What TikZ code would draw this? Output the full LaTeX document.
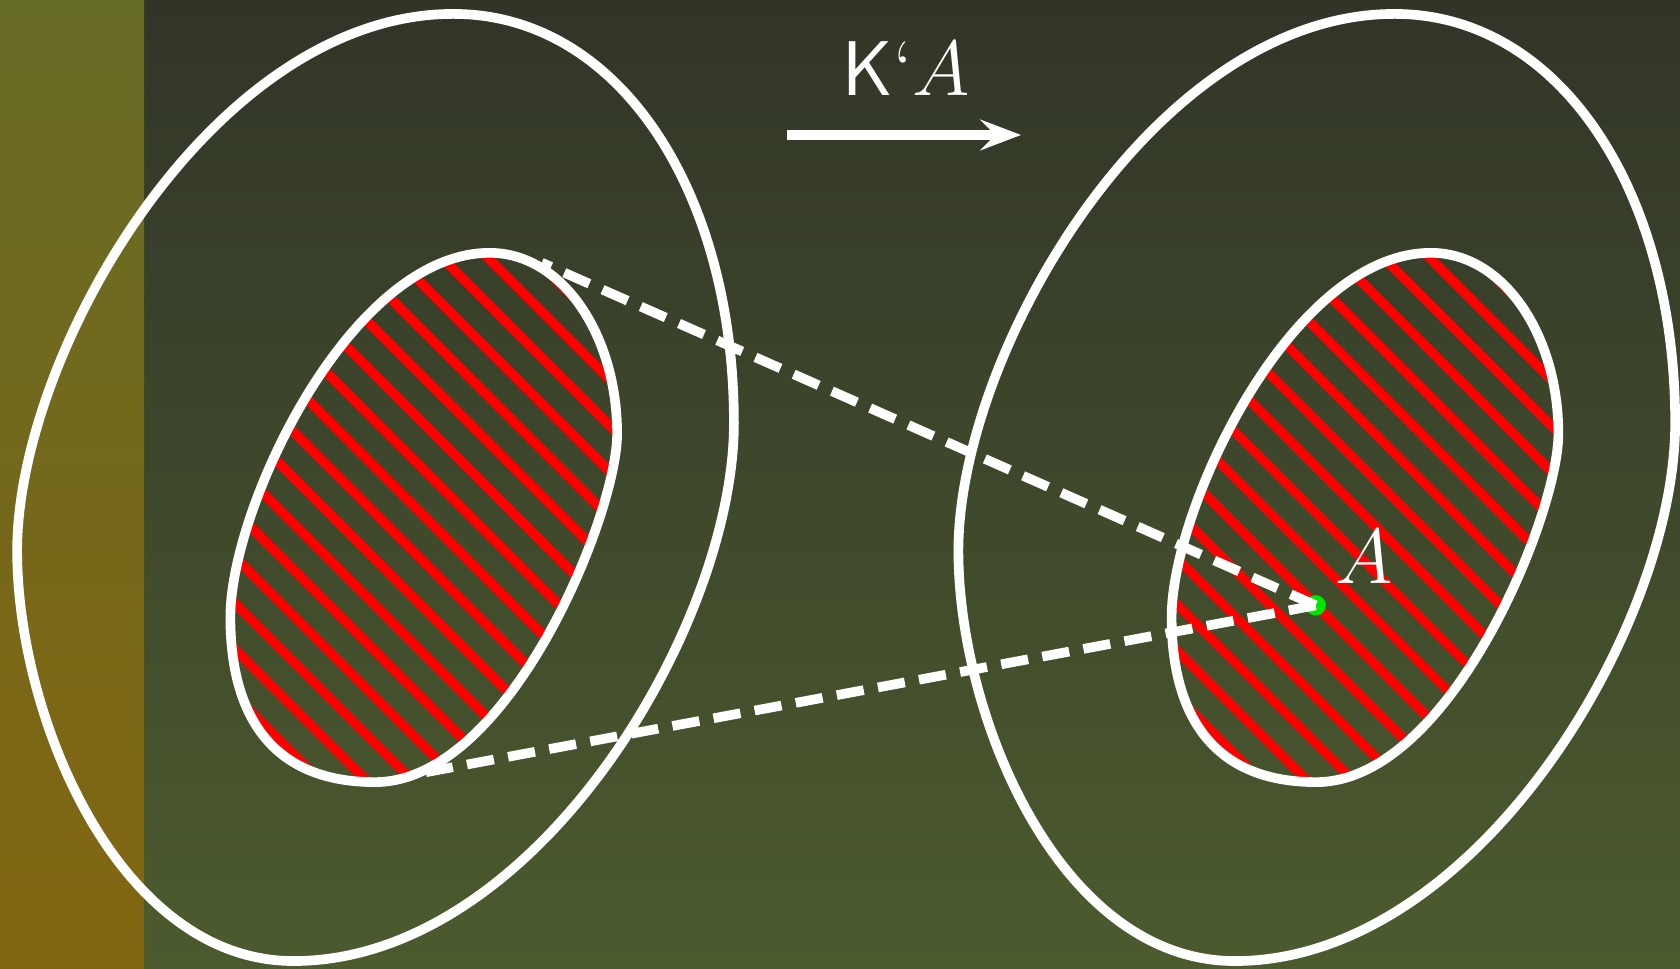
\documentclass[tikz,border=0pt]{standalone}
\usetikzlibrary{arrows.meta}
\definecolor{bgtop}{RGB}{49,53,40}
\definecolor{bgbot}{RGB}{76,91,46}
\definecolor{striptop}{RGB}{102,107,38}
\definecolor{stripbot}{RGB}{131,102,16}
\definecolor{dotgreen}{RGB}{0,230,0}
\def\outerpath{(423,13) .. controls (578,13) and (685,179) .. (685,395) .. controls (685,585) and (499,897) .. (274,897) .. controls (111,897) and (16,670) .. (16,514) .. controls (16,329) and (199,13) .. cycle}
\def\innerpath{(457,236) .. controls (525,236) and (576,313) .. (576,405) .. controls (576,480) and (475,730) .. (350,730) .. controls (250,730) and (215,663) .. (215,576) .. controls (215,474) and (327,236) .. cycle}
\begin{document}
\begin{tikzpicture}[x=0.01cm,y=-0.01cm,
  outline/.style={draw=white,line width=0.09cm},
  hatch/.style={draw=red,line width=0.088cm},
  dashline/.style={draw=white,line width=0.09cm,dash pattern=on 0.255cm off 0.135cm},
  lbl/.style={text=white,font=\fontsize{20.6}{24}\selectfont,inner sep=0pt}]
\useasboundingbox (0,0) rectangle (1568,904);
\shade[top color=bgtop,bottom color=bgbot] (0,0) rectangle (1568,904);
\shade[top color=striptop,bottom color=stripbot] (0,0) rectangle (134.4,904);
% hatched sets
\foreach \sh in {0,8.78}{
  \begin{scope}[xshift=\sh cm]
    \begin{scope}
      \clip \innerpath;
      \foreach \k in {-6,...,12}{
        \draw[hatch] ({-215+43*\k-100},-100) -- ({-215+43*\k+1000},1000);
      }
    \end{scope}
    \path[outline] \innerpath;
    \path[outline] \outerpath;
  \end{scope}
}
% point A
\node[circle,fill=dotgreen,inner sep=0pt,minimum size=0.19cm] (dotA) at (1228,565) {};
\coordinate (u1) at (505.6,245.2);
\coordinate (l1) at (392.5,721.7);
\draw[dashline] (dotA.center) -- (u1);
\draw[dashline] (dotA.center) -- (l1);
\node[lbl] (labA) at (1273,520) {$A$};
% map arrow
\node[lbl] (kA) at (846,64) {\textsf{K}‘$A$};
\coordinate (arrS) at (734.5,126);
\coordinate (arrE) at (953,126);
\draw[white,line width=0.093cm,-{Stealth[length=0.38cm,width=0.286cm,inset=0.14cm]}] (arrS) -- (arrE);
\end{tikzpicture}
\end{document}
